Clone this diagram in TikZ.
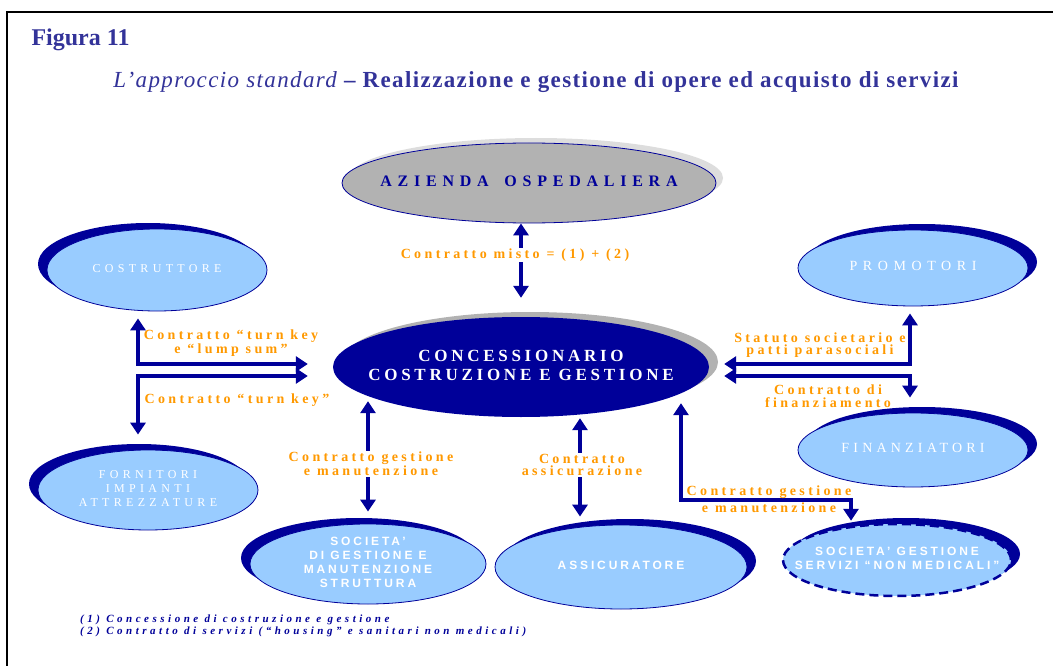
\documentclass[tikz,border=0pt]{standalone}
\usepackage{fontspec}
\setmainfont{Liberation Serif}
\setsansfont{Liberation Sans}
\usetikzlibrary{arrows.meta,shapes.geometric,shadows}
\definecolor{cNavy}{HTML}{000099}
\definecolor{cSky}{HTML}{99CCFF}
\definecolor{cOrange}{HTML}{FF9900}
\definecolor{cInk}{HTML}{333399}
\definecolor{cGrey}{HTML}{B2B2B2}
\definecolor{cGreyL}{HTML}{DDDDDD}
% text that does not stretch the oval
\newcommand{\ovaltext}[1]{\makebox[0pt]{\begin{tabular}{@{}c@{}}#1\end{tabular}}}

\begin{document}
\begin{tikzpicture}[x=1pt, y=-1pt,
    oval/.style={ellipse, inner sep=0pt, fill=cSky, draw=cNavy, line width=0.8pt, text=white},
    lshade/.style={drop shadow={shadow xshift=-9pt, shadow yshift=6pt, fill=cNavy, opacity=1}},
    rshade/.style={drop shadow={shadow xshift=9pt, shadow yshift=6pt, fill=cNavy, opacity=1}},
    sanscap/.style={font=\sffamily\bfseries\fontsize{12}{14}\selectfont\addfontfeature{LetterSpace=24}},
    lab/.style={text=cOrange, align=center, inner sep=1pt,
      font=\fontsize{14}{12.5}\selectfont\bfseries\addfontfeature{LetterSpace=24}},
    arr/.style={cNavy, line width=4pt, {Triangle[length=12pt,width=15pt]}-{Triangle[length=12pt,width=15pt]}}]
  \useasboundingbox (0,0) rectangle (1053,666);
  % frame and titles
  \draw[line width=2pt] (1053,12) -- (7,12) -- (7,666);
  \node[anchor=west, text=cInk, font=\fontsize{24}{26}\selectfont\bfseries] (fig) at (28,40) {Figura 11};
  \node[text=cInk, font=\fontsize{23}{25}\selectfont\bfseries\addfontfeature{LetterSpace=6}] (title) at (536,82)
    {\mdseries\itshape L’approccio standard \upshape\bfseries – Realizzazione e gestione di opere ed acquisto di servizi};

  % ellipses
  \node[ellipse, inner sep=0pt, minimum width=374pt, minimum height=80pt, fill=cGrey, draw=cNavy, line width=0.8pt,
    drop shadow={shadow xshift=7pt, shadow yshift=5pt, fill=cGreyL, opacity=1},
    text=cNavy, font=\fontsize{16}{18}\selectfont\bfseries\addfontfeature{LetterSpace=36}] (azi) at (529,183)
    {\ovaltext{AZIENDA\hspace{6pt} OSPEDALIERA}};
  \node[ellipse, inner sep=0pt, minimum width=376pt, minimum height=100pt, fill=cNavy,
    drop shadow={shadow xshift=9pt, shadow yshift=5pt, fill=cGrey, opacity=1},
    text=white, font=\fontsize{17}{19}\selectfont\bfseries\addfontfeature{LetterSpace=22}] (conc) at (521,367)
    {\ovaltext{CONCESSIONARIO\\COSTRUZIONE E GESTIONE}};
  \node[oval, lshade, font=\fontsize{12}{12}\selectfont\addfontfeature{LetterSpace=36},
    minimum width=220pt, minimum height=82pt] (costr) at (157,270) {\ovaltext{COSTRUTTORE}};
  \node[oval, rshade, font=\fontsize{14}{14}\selectfont\addfontfeature{LetterSpace=40},
    minimum width=230pt, minimum height=76pt] (prom) at (913,268) {\ovaltext{PROMOTORI}};
  \node[oval, lshade, font=\fontsize{12}{14}\selectfont\addfontfeature{LetterSpace=36},
    minimum width=220pt, minimum height=80pt] (forn) at (148,490) {\ovaltext{FORNITORI\\IMPIANTI\\ATTREZZATURE}};
  \node[oval, rshade, font=\fontsize{14}{14}\selectfont\addfontfeature{LetterSpace=30},
    minimum width=230pt, minimum height=74pt] (fin) at (913,450) {\ovaltext{FINANZIATORI}};
  \node[oval, lshade, sanscap, minimum width=236pt, minimum height=80pt] (soc) at (368,564) {\ovaltext{SOCIETA’\\DI GESTIONE E\\MANUTENZIONE\\STRUTTURA}};
  \node[oval, rshade, sanscap, minimum width=252pt, minimum height=84pt] (ass) at (621,567) {\ovaltext{ASSICURATORE}};
  \node[oval, rshade, sanscap, line width=2.5pt, dash pattern=on 9pt off 5pt, minimum width=228pt, minimum height=72pt] (serv) at (897,560)
    {\ovaltext{SOCIETA’ GESTIONE\\SERVIZI “NON MEDICALI”}};

  % connectors
  \draw[arr] (azi.south -| conc.north) -- ([yshift=19pt]conc.north);
  \node[lab, fill=white] (lmisto) at (515,255) {Contratto misto = (1) + (2)};
  \draw[arr] ([xshift=-19pt,yshift=-7pt]costr.south) |- ([xshift=-25pt,yshift=3pt]conc.west);
  \draw[arr] ([xshift=-25pt,yshift=-9pt]conc.west) -| ([xshift=-10pt,yshift=15pt]forn.north);
  \node[lab] (llump) at (231,343) {Contratto “turn key\\e “lump sum”};
  \node[lab] (lturn) at (237,400) {Contratto “turn key”};
  \draw[arr] ([xshift=15pt,yshift=3pt]conc.east) -| ([xshift=-3pt,yshift=-7pt]prom.south);
  \draw[arr] ([xshift=15pt,yshift=-9pt]conc.east) -| ([xshift=-3pt,yshift=15pt]fin.north);
  \node[lab] (lstat) at (820,345) {Statuto societario e\\patti parasociali};
  \node[lab] (lfin) at (828,396) {Contratto di\\finanziamento};
  \draw[arr] ([xshift=-153pt,yshift=16pt]conc.south) -- ([yshift=12pt]soc.north);
  \node[lab, fill=white] (lsoc) at (371,464) {Contratto gestione\\e manutenzione};
  \draw[arr] ([xshift=59pt,yshift=-1pt]conc.south) -- ([xshift=-41pt,yshift=8pt]ass.north);
  \node[lab, fill=white] (lass) at (582,465) {Contratto\\assicurazione};
  \draw[arr] ([xshift=160pt,yshift=14pt]conc.south) -- ++(0,97) -| ([xshift=-46pt,yshift=2pt]serv.north);
  \node[lab, font=\fontsize{14}{17}\selectfont\bfseries\addfontfeature{LetterSpace=24}] (lserv) at (769,499) {Contratto gestione\\e manutenzione};

  % notes
  \node[anchor=west, align=left, text=cNavy, inner sep=0pt,
    font=\fontsize{11}{12.5}\selectfont\bfseries\itshape\addfontfeature{LetterSpace=32}] (notes) at (80,626)
    {(1) Concessione di costruzione e gestione\\(2) Contratto di servizi (“housing” e sanitari non medicali)};
\end{tikzpicture}
\end{document}
